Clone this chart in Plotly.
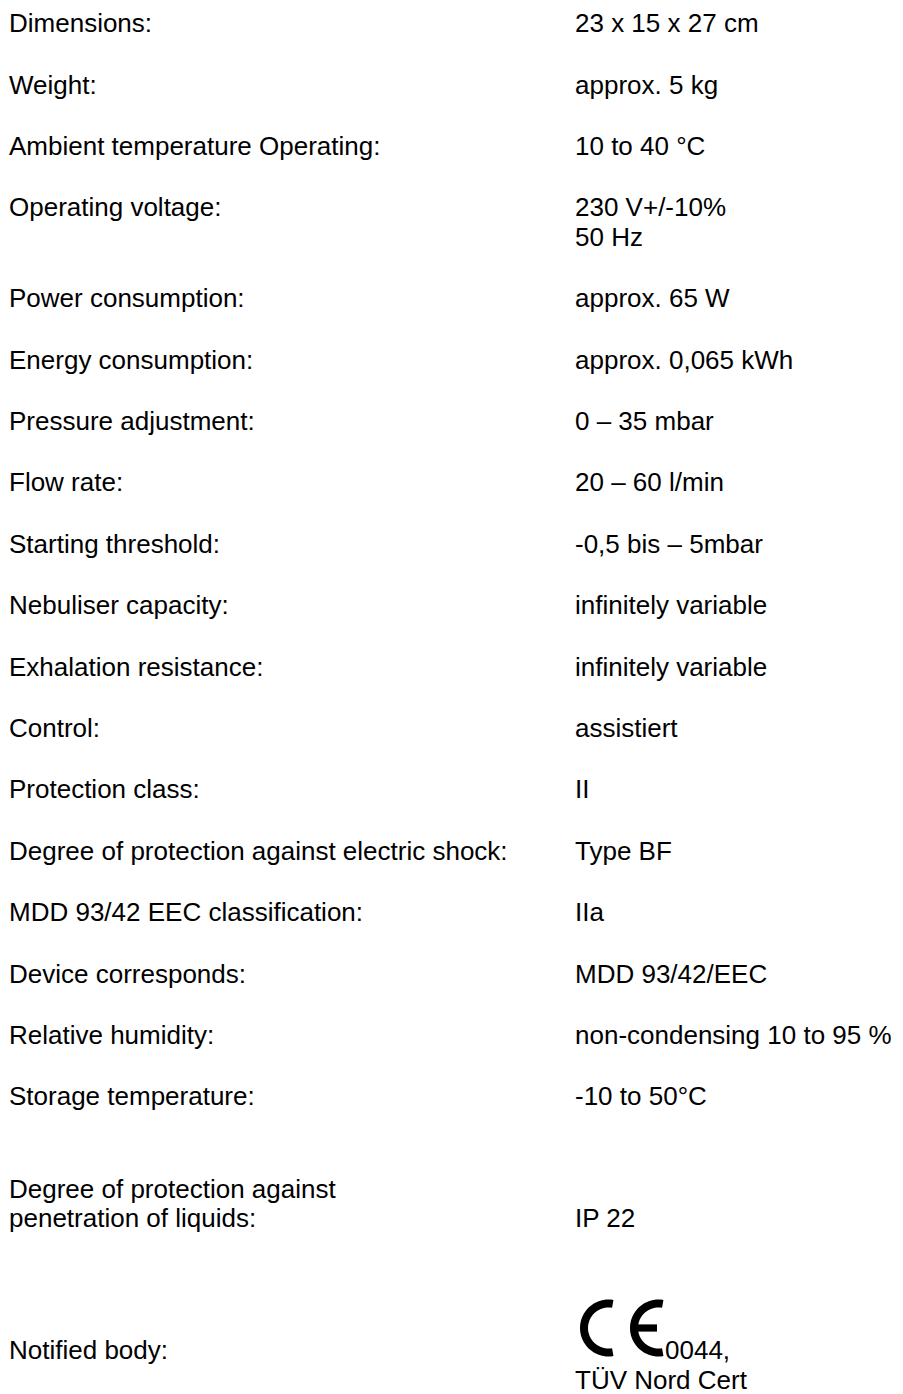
import math
import plotly.graph_objects as go

# ---------------- data ----------------
labels = [
    "Dimensions:",
    "Weight:",
    "Ambient temperature Operating:",
    "Operating voltage:",
    "Power consumption:",
    "Energy consumption:",
    "Pressure adjustment:",
    "Flow rate:",
    "Starting threshold:",
    "Nebuliser capacity:",
    "Exhalation resistance:",
    "Control:",
    "Protection class:",
    "Degree of protection against electric shock:",
    "MDD 93/42 EEC classification:",
    "Device corresponds:",
    "Relative humidity:",
    "Storage temperature:",
    "Degree of protection against\npenetration of liquids:",
    "Notified body:",
]

values = [
    "23 x 15 x 27 cm",
    "approx. 5 kg",
    "10 to 40 °C",
    "230 V+/-10%\n50 Hz",
    "approx. 65 W",
    "approx. 0,065 kWh",
    "0 – 35 mbar",
    "20 – 60 l/min",
    "-0,5 bis – 5mbar",
    "infinitely variable",
    "infinitely variable",
    "assistiert",
    "II",
    "Type BF",
    "IIa",
    "MDD 93/42/EEC",
    "non-condensing 10 to 95 %",
    "-10 to 50°C",
    "IP 22",
    "0044,\nTÜV Nord Cert",
]

# ---------------- layout constants ----------------
W, H = 903, 1394
FONT = "Liberation Sans, Arial, Helvetica, sans-serif"
FS = 26
COLOR = "#000000"
X_LABEL = 9
X_VALUE = 575
FIRST_BASE = 32.3
ROW_PITCH = 61.4
LINE_STEP = 29.3
EXTRA_GAP = {18: 31.0, 19: 71.0}          # extra space before these rows
VALUE_ALIGN = {18: "bottom"}               # value aligned with last label line
CE_ROW = 19                                # row whose value is preceded by CE mark
CE_TEXT_X = 665

MID = (0.905 - 0.212) / 2 * FS  # baseline -> text box middle


def add_line(fig, x, base, text):
    fig.add_annotation(
        x=x, y=base - MID, xref="x", yref="y",
        text=text, showarrow=False, xanchor="left", yanchor="middle",
        align="left", font=dict(family=FONT, size=FS, color=COLOR),
        borderpad=0, borderwidth=0,
    )


fig = go.Figure()
fig.add_trace(go.Scatter(x=[0, W], y=[0, H], mode="markers",
                         marker=dict(opacity=0), hoverinfo="skip"))

base = FIRST_BASE
prev_lines = 1
for i, (lab, val) in enumerate(zip(labels, values)):
    if i > 0:
        base += ROW_PITCH + (prev_lines - 1) * LINE_STEP + EXTRA_GAP.get(i, 0)
    lab_lines = lab.split("\n")
    val_lines = val.split("\n")
    for k, t in enumerate(lab_lines):
        add_line(fig, X_LABEL, base + k * LINE_STEP, t)
    if VALUE_ALIGN.get(i) == "bottom":
        vstart = base + (len(lab_lines) - len(val_lines)) * LINE_STEP
    else:
        vstart = base
    for k, t in enumerate(val_lines):
        x = X_VALUE
        if i == CE_ROW and k == 0:
            x = CE_TEXT_X
            # CE mark drawn as filled shapes
            cy = base - 31.5
            R, r = 28.5, 20.5
            for cx, bar in ((608.5, False), (658.5, True)):
                pts = []
                n = 40
                for j in range(n + 1):
                    a = math.radians(80 + 200 * j / n)
                    pts.append((cx + R * math.cos(a), cy - R * math.sin(a)))
                for j in range(n + 1):
                    a = math.radians(280 - 200 * j / n)
                    pts.append((cx + r * math.cos(a), cy - r * math.sin(a)))
                path = "M " + " L ".join(f"{px:.2f},{py:.2f}" for px, py in pts) + " Z"
                fig.add_shape(type="path", path=path, xref="x", yref="y",
                              fillcolor=COLOR, line=dict(width=0))
                if bar:
                    fig.add_shape(type="rect", xref="x", yref="y",
                                  x0=cx - r - 1, x1=cx - 1.5,
                                  y0=cy - 3.6, y1=cy + 3.6,
                                  fillcolor=COLOR, line=dict(width=0))
        add_line(fig, x, vstart + k * LINE_STEP, t)
    prev_lines = max(len(lab_lines), len(val_lines) if VALUE_ALIGN.get(i) != "bottom" else 1)

fig.update_layout(
    width=W, height=H,
    margin=dict(l=0, r=0, t=0, b=0),
    paper_bgcolor="white", plot_bgcolor="white",
    showlegend=False,
    xaxis=dict(range=[0, W], visible=False, fixedrange=True),
    yaxis=dict(range=[H, 0], visible=False, fixedrange=True),
)

fig.write_html(
    "out.html",
    config={"displayModeBar": False},
    post_script="document.body.style.margin='0px';document.body.style.overflow='hidden';",
)
